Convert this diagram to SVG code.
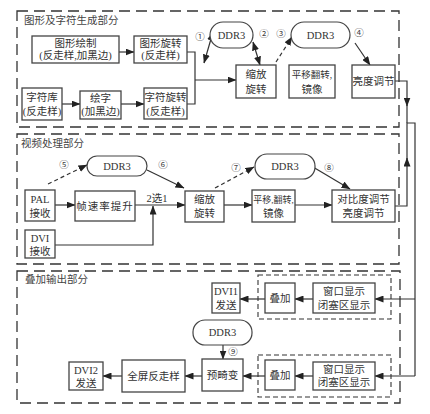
<svg xmlns="http://www.w3.org/2000/svg" width="430" height="414" viewBox="0 0 430 414">
<defs>
<marker id="ah" markerWidth="9" markerHeight="7" refX="8.5" refY="3.5" orient="auto" markerUnits="userSpaceOnUse"><path d="M0,0 L9,3.5 L0,7 Z" fill="#222"/></marker>
<marker id="as" markerWidth="9" markerHeight="7" refX="0.5" refY="3.5" orient="auto" markerUnits="userSpaceOnUse"><path d="M9,0 L0,3.5 L9,7 Z" fill="#222"/></marker>
<style>
.sec{fill:none;stroke:#333;stroke-width:1.3;stroke-dasharray:11 6}
.inn{fill:none;stroke:#333;stroke-width:1.1;stroke-dasharray:5 3}
.box{fill:#fff;stroke:#444;stroke-width:1.3}
.ddr{fill:#fff;stroke:#444;stroke-width:1.2}
.t{font-family:"Liberation Serif","Noto Sans CJK SC",serif;font-size:10.5px;fill:#333;text-anchor:middle}
.lab{font-family:"Noto Sans CJK SC","Liberation Serif",serif;font-size:10.5px;fill:#444}
.n{font-family:"Noto Sans CJK SC","DejaVu Sans",sans-serif;font-size:9.5px;fill:#444;text-anchor:middle}
.c{fill:none;stroke:#333;stroke-width:1.2}
.a{fill:none;stroke:#333;stroke-width:1.2;marker-end:url(#ah)}
.d{fill:none;stroke:#333;stroke-width:1.2;stroke-dasharray:4 3;marker-end:url(#ah)}
.b{fill:none;stroke:#333;stroke-width:1.2;marker-end:url(#ah);marker-start:url(#as)}
</style>
</defs>
<rect width="430" height="414" fill="#fff"/>
<g id="sections">
<rect class="sec" x="17" y="11" width="382" height="116"/>
<rect class="sec" x="17" y="134" width="382" height="130"/>
<rect class="sec" x="17" y="271" width="383" height="132"/>
<rect class="inn" x="258" y="275" width="133" height="44"/>
<rect class="inn" x="258" y="355" width="133" height="42"/>
<text class="lab" x="24" y="24">图形及字符生成部分</text>
<text class="lab" x="21" y="147">视频处理部分</text>
<text class="lab" x="25" y="283">叠加输出部分</text>
</g>
<g id="connectors">
<path class="a" d="M119,52 H134"/>
<path class="a" d="M62,104 H80"/>
<path class="a" d="M121,104 H144"/>
<path class="c" d="M187,52 H195 V104 H187"/>
<path class="a" d="M195,80 H236"/>
<path class="b" d="M204,63 L213,32"/>
<path class="b" d="M253,42 L260,65"/>
<path class="d" d="M276,62 L292,37"/>
<path class="a" d="M355,43 L370,65"/>
<path class="a" d="M395,81 H407 V106"/>
<path class="c" d="M407,104 V123"/>
<path class="a" d="M395,206 H407 V158"/>
<path class="c" d="M407,160 V123 H415 V376"/>
<path class="a" d="M415,376 H375"/>
<path class="a" d="M415,299 H375"/>
<path class="a" d="M55,205 H75"/>
<path class="a" d="M135,205 H185"/>
<path class="a" d="M55,245 H153 V206"/>
<path class="d" d="M48,184 L87,165"/>
<path class="a" d="M147,170 L184,188"/>
<path class="a" d="M224,205 H252"/>
<path class="a" d="M295,205 H332"/>
<path class="d" d="M215,188 L254,167"/>
<path class="a" d="M313,167 L350,189"/>
<path class="a" d="M313,299 H295"/>
<path class="a" d="M265,299 H240"/>
<path class="a" d="M223,345 V359"/>
<path class="a" d="M313,376 H295"/>
<path class="a" d="M265,376 H243"/>
<path class="a" d="M202,376 H185"/>
<path class="a" d="M122,376 H103"/>
<text class="n" x="200" y="40">①</text>
<text class="n" x="264" y="37">②</text>
<text class="n" x="281" y="37">③</text>
<text class="n" x="359" y="36">④</text>
<text class="n" x="64" y="168">⑤</text>
<text class="n" x="163" y="168">⑥</text>
<text class="n" x="236" y="171">⑦</text>
<text class="n" x="329" y="171">⑧</text>
<text class="n" x="233" y="355">⑨</text>
<text class="t" x="157" y="202">2选1</text>
</g>
<g id="n-txhz"><rect class="box" x="32" y="36" width="87" height="27"/><text class="t" x="75.5" y="47">图形绘制</text><text class="t" x="75.5" y="59">(反走样,加黑边)</text></g>
<g id="n-txxz"><rect class="box" x="134" y="36" width="53" height="27"/><text class="t" x="160.5" y="47">图形旋转</text><text class="t" x="160.5" y="59">(反走样)</text></g>
<g id="n-zfk"><rect class="box" x="22" y="88" width="40" height="32"/><text class="t" x="42" y="101">字符库</text><text class="t" x="42" y="115">(反走样)</text></g>
<g id="n-hz"><rect class="box" x="80" y="91" width="41" height="28"/><text class="t" x="100.5" y="102">绘字</text><text class="t" x="100.5" y="115">(加黑边)</text></g>
<g id="n-zfxz"><rect class="box" x="144" y="88" width="43" height="31"/><text class="t" x="165.5" y="101">字符旋转</text><text class="t" x="165.5" y="115">(反走样)</text></g>
<g id="n-ddr1"><rect class="ddr" x="210" y="22" width="43" height="26" rx="13"/><text class="t" x="231.5" y="39">DDR3</text></g>
<g id="n-sf1"><rect class="box" x="236" y="65" width="40" height="33"/><text class="t" x="256" y="78">缩放</text><text class="t" x="256" y="93">旋转</text></g>
<g id="n-ddr2"><rect class="ddr" x="291" y="22" width="59" height="26" rx="13"/><text class="t" x="320.5" y="39">DDR3</text></g>
<g id="n-py1"><rect class="box" x="289" y="65" width="46" height="33"/><text class="t" x="312" y="78" style="font-size:9.5px">平移翻转,</text><text class="t" x="312" y="93">镜像</text></g>
<g id="n-ld"><rect class="box" x="352" y="65" width="43" height="33"/><text class="t" x="373.5" y="85">亮度调节</text></g>
<g id="n-pal"><rect class="box" x="25" y="190" width="30" height="31"/><text class="t" x="40" y="203">PAL</text><text class="t" x="40" y="217">接收</text></g>
<g id="n-zsl"><rect class="box" x="75" y="191" width="60" height="30"/><text class="t" x="105" y="210" style="letter-spacing:1px">帧速率提升</text></g>
<g id="n-dvi"><rect class="box" x="25" y="230" width="30" height="28"/><text class="t" x="40" y="242">DVI</text><text class="t" x="40" y="255">接收</text></g>
<g id="n-ddr3"><rect class="ddr" x="87" y="156" width="60" height="20" rx="10"/><text class="t" x="117" y="170">DDR3</text></g>
<g id="n-sf2"><rect class="box" x="185" y="191" width="39" height="31"/><text class="t" x="204.5" y="203">缩放</text><text class="t" x="204.5" y="217">旋转</text></g>
<g id="n-ddr4"><rect class="ddr" x="255" y="154" width="60" height="25" rx="12"/><text class="t" x="285" y="170">DDR3</text></g>
<g id="n-py2"><rect class="box" x="252" y="190" width="43" height="32"/><text class="t" x="273.5" y="203" style="font-size:9px">平移,翻转,</text><text class="t" x="273.5" y="217">镜像</text></g>
<g id="n-db"><rect class="box" x="332" y="190" width="63" height="32"/><text class="t" x="363.5" y="203">对比度调节</text><text class="t" x="363.5" y="217">亮度调节</text></g>
<g id="n-dvi1"><rect class="box" x="212" y="283" width="28" height="30"/><text class="t" x="226" y="295">DVI1</text><text class="t" x="226" y="309">发送</text></g>
<g id="n-dj1"><rect class="box" x="265" y="283" width="30" height="30"/><text class="t" x="280" y="302">叠加</text></g>
<g id="n-ck1"><rect class="box" x="313" y="283" width="62" height="30"/><text class="t" x="344" y="295">窗口显示</text><text class="t" x="344" y="309">闭塞区显示</text></g>
<g id="n-ddr5"><rect class="ddr" x="193" y="320" width="59" height="25" rx="12"/><text class="t" x="222.5" y="336">DDR3</text></g>
<g id="n-yjb"><rect class="box" x="202" y="359" width="41" height="32"/><text class="t" x="222.5" y="379">预畸变</text></g>
<g id="n-dj2"><rect class="box" x="265" y="360" width="30" height="30"/><text class="t" x="280" y="379">叠加</text></g>
<g id="n-ck2"><rect class="box" x="313" y="362" width="62" height="28"/><text class="t" x="344" y="373">窗口显示</text><text class="t" x="344" y="386">闭塞区显示</text></g>
<g id="n-qp"><rect class="box" x="122" y="360" width="63" height="32"/><text class="t" x="153.5" y="380">全屏反走样</text></g>
<g id="n-dvi2"><rect class="box" x="69" y="362" width="34" height="28"/><text class="t" x="86" y="374">DVI2</text><text class="t" x="86" y="387">发送</text></g>
</svg>
